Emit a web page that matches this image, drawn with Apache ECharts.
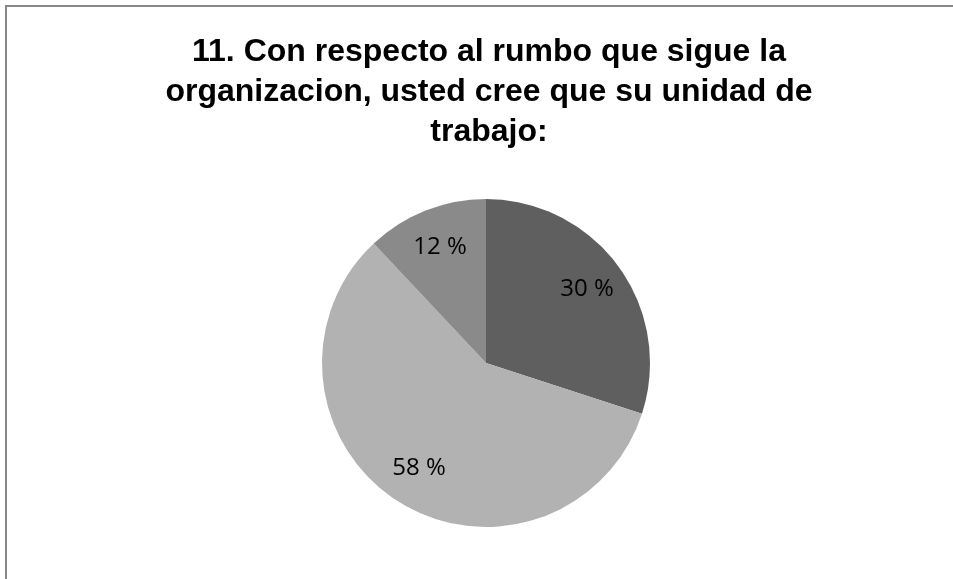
<!DOCTYPE html>
<html>
<head>
<meta charset="utf-8">
<script src="https://cdn.jsdelivr.net/npm/echarts@6/dist/echarts.min.js"></script>
<style>
  html, body { margin: 0; padding: 0; background: #ffffff; }
  #chart { width: 953px; height: 579px; }
</style>
</head>
<body>
<div id="chart"></div>
<script>
// Survey answers and their shares (percent)
const categories = ['Opción A', 'Opción B', 'Opción C'];
const shares = [30, 58, 12];
const sliceColors = ['#5f5f5f', '#b2b2b2', '#8a8a8a'];
const titleText = '11. Con respecto al rumbo que sigue la\norganizacion, usted cree que su unidad de\ntrabajo:';

const pieData = categories.map((name, i) => ({
  name: name,
  value: shares[i],
  itemStyle: { color: sliceColors[i] }
}));

const chart = echarts.init(document.getElementById('chart'), null, { renderer: 'canvas' });

chart.setOption({
  backgroundColor: '#ffffff',
  animation: false,
  title: {
    text: titleText,
    left: 484,
    top: 27,
    textAlign: 'center',
    textStyle: {
      fontFamily: 'Liberation Sans, Arial, sans-serif',
      fontWeight: 'bold',
      fontSize: 32,
      lineHeight: 40,
      color: '#000000'
    }
  },
  graphic: [{
    type: 'rect',
    silent: true,
    shape: { x: 6, y: 6, width: 1000, height: 1000 },
    style: { fill: null, stroke: '#878787', lineWidth: 2 }
  }],
  series: [
    {
      // the slices
      type: 'pie',
      center: [486, 363],
      radius: [0, 164],
      startAngle: 90,
      clockwise: true,
      silent: true,
      label: { show: false },
      labelLine: { show: false },
      itemStyle: { borderWidth: 0 },
      data: pieData
    },
    {
      // percentage labels, placed on a wider invisible ring
      type: 'pie',
      center: [486, 363],
      radius: [0, 244],
      startAngle: 90,
      clockwise: true,
      silent: true,
      itemStyle: { color: 'rgba(0,0,0,0)', borderWidth: 0 },
      label: {
        show: true,
        position: 'inside',
        formatter: p => p.value + ' %',
        fontFamily: 'Open Sans, sans-serif',
        fontSize: 24,
        color: '#000000'
      },
      labelLine: { show: false },
      data: pieData.map(d => ({ name: d.name, value: d.value }))
    }
  ]
});
</script>
</body>
</html>
